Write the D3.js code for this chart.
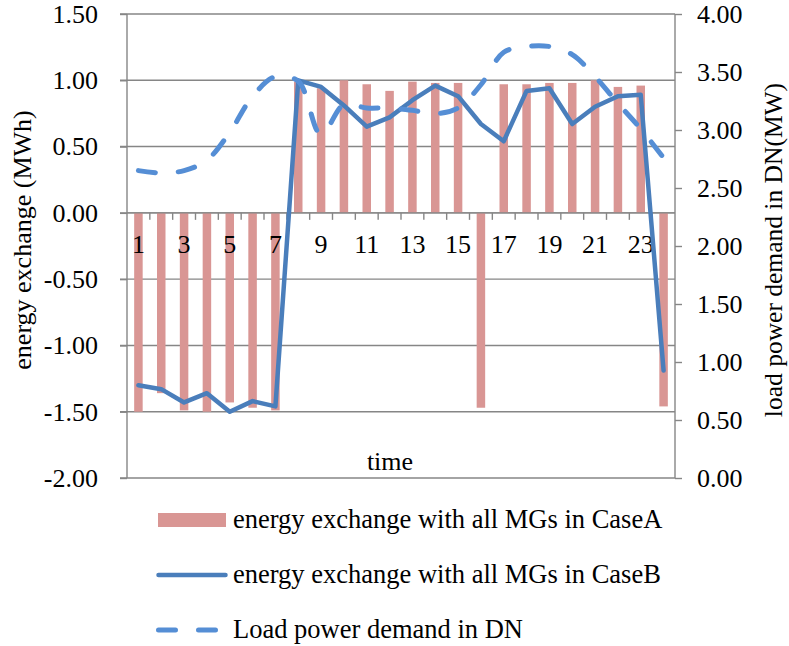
<!DOCTYPE html>
<html>
<head>
<meta charset="utf-8">
<script src="https://cdn.jsdelivr.net/npm/d3@7"></script>
<style>
  body { margin: 0; background: #fff; }
  svg text { font-family: "Liberation Serif", "Times New Roman", "DejaVu Serif", serif; fill: #000; }
</style>
</head>
<body>
<div id="canvas"></div>
<script>
/*
 * Data
 *
 */
const hours = [1, 2, 3, 4, 5, 6, 7, 8, 9, 10, 11, 12, 13, 14, 15, 16, 17, 18, 19, 20, 21, 22, 23, 24];
const caseA = [-1.50, -1.36, -1.49, -1.50, -1.43, -1.47, -1.49, 0.99, 0.94, 1.00, 0.97, 0.92,
  0.99, 0.98, 0.98, -1.47, 0.97, 0.97, 0.98, 0.98, 1.00, 0.95, 0.96, -1.46];
const caseB = [-1.30, -1.33, -1.43, -1.36, -1.50, -1.42, -1.46, 1.00, 0.95, 0.81, 0.65, 0.72,
  0.85, 0.96, 0.88, 0.67, 0.54, 0.92, 0.94, 0.67, 0.80, 0.88, 0.89, -1.19];
const loadDemand = [2.65, 2.63, 2.65, 2.74, 2.98, 3.29, 3.46, 3.42, 2.96, 3.22, 3.19, 3.19,
  3.17, 3.14, 3.19, 3.39, 3.67, 3.72, 3.72, 3.65, 3.46, 3.23, 3.01, 2.76];
const leftTicks = [-2.0, -1.5, -1.0, -0.5, 0.0, 0.5, 1.0, 1.5];
const rightTicks = [0, 0.5, 1.0, 1.5, 2.0, 2.5, 3.0, 3.5, 4.0];
const xLabels = [1, 3, 5, 7, 9, 11, 13, 15, 17, 19, 21, 23];
const legendNames = [
  'energy exchange with all MGs in CaseA',
  'energy exchange with all MGs in CaseB',
  'Load power demand in DN'
];

const color = {
  bar: '#d99694',
  caseB: '#4a7ebb',
  load: '#558ed5',
  grid: '#868686'
};

const svgWidth = 789,
  svgHeight = 646;
const plot = { left: 127, right: 675, top: 14, bottom: 478 };
const fontSize = 26;
const serif = '"Liberation Serif", "Times New Roman", "DejaVu Serif", serif';

const svg = d3.select('#canvas').append('svg')
  .attr('width', svgWidth)
  .attr('height', svgHeight)
  .style('font-family', serif);

/*
 * Scales
 *
 */
const xScale = d3.scaleBand()
  .domain(hours)
  .range([plot.left, plot.right])
  .padding(0);

const yLeft = d3.scaleLinear()
  .domain([-2, 1.5])
  .range([plot.bottom, plot.top]);

const yRight = d3.scaleLinear()
  .domain([0, 4])
  .range([plot.bottom, plot.top]);

const cx = (h) => xScale(h) + xScale.bandwidth() / 2;
// plain hyphen for negatives, like the original
const fmt = (d) => d3.format('.2f')(d).replace('\u2212', '-');

function styleAxis(ax) {
  ax.attr('font-family', null).attr('font-size', null);
  ax.select('.domain').attr('stroke', color.grid).attr('stroke-width', 1.4);
  ax.selectAll('.tick line').attr('stroke', color.grid).attr('stroke-width', 1.4);
  ax.selectAll('text')
    .style('font-size', `${fontSize}px`)
    .style('font-family', serif)
    .attr('fill', '#000');
}

/*
 * Gridlines + axes
 *
 */
svg.append('g')
  .attr('class', 'grid')
  .selectAll('line')
  .data(leftTicks)
  .enter()
  .append('line')
  .attr('x1', plot.left - 7)
  .attr('x2', plot.right)
  .attr('y1', (d) => yLeft(d))
  .attr('y2', (d) => yLeft(d))
  .attr('stroke', color.grid)
  .attr('stroke-width', 1.4);

const leftAxis = svg.append('g')
  .attr('transform', `translate(${plot.left},0)`)
  .call(d3.axisLeft(yLeft).tickValues(leftTicks).tickFormat(fmt).tickSize(7).tickPadding(22));
styleAxis(leftAxis);
leftAxis.select('.domain').attr('d', `M0,${plot.top}V${plot.bottom}`);

const rightAxis = svg.append('g')
  .attr('transform', `translate(${plot.right},0)`)
  .call(d3.axisRight(yRight).tickValues(rightTicks).tickFormat(fmt).tickSize(7).tickPadding(15));
styleAxis(rightAxis);
rightAxis.select('.domain').attr('d', `M0,${plot.top}V${plot.bottom}`);

// category boundary tick marks below the zero line
svg.append('g')
  .selectAll('line')
  .data(hours.slice(1))
  .enter()
  .append('line')
  .attr('x1', (d) => xScale(d))
  .attr('x2', (d) => xScale(d))
  .attr('y1', yLeft(0))
  .attr('y2', yLeft(0) + 7)
  .attr('stroke', color.grid)
  .attr('stroke-width', 1.4);

/*
 * Bars (Case A)
 *
 */
const barWidth = 8.5;
svg.append('g')
  .attr('class', 'bars')
  .selectAll('rect')
  .data(caseA)
  .enter()
  .append('rect')
  .attr('x', (d, i) => cx(hours[i]) - barWidth / 2)
  .attr('y', (d) => yLeft(Math.max(0, d)))
  .attr('width', barWidth)
  .attr('height', (d) => Math.abs(yLeft(d) - yLeft(0)))
  .attr('fill', color.bar);

// zero line above bars
svg.append('line')
  .attr('x1', plot.left)
  .attr('x2', plot.right)
  .attr('y1', yLeft(0))
  .attr('y2', yLeft(0))
  .attr('stroke', color.grid)
  .attr('stroke-width', 1.4);

// category labels sit on top of the bars
const bottomAxis = svg.append('g')
  .attr('transform', `translate(0,${yLeft(0)})`)
  .call(d3.axisBottom(xScale).tickValues(xLabels).tickSize(0).tickPadding(22));
styleAxis(bottomAxis);
bottomAxis.select('.domain').remove();

/*
 * Lines
 *
 */
const lineB = d3.line()
  .x((d, i) => cx(hours[i]))
  .y((d) => yLeft(d));

svg.append('path')
  .datum(caseB)
  .attr('d', lineB)
  .attr('fill', 'none')
  .attr('stroke', color.caseB)
  .attr('stroke-width', 4.5)
  .attr('stroke-linejoin', 'round')
  .attr('stroke-linecap', 'round');

const lineLoad = d3.line()
  .x((d, i) => cx(hours[i]))
  .y((d) => yRight(d))
  .curve(d3.curveCatmullRom.alpha(0.5));

svg.append('path')
  .datum(loadDemand)
  .attr('d', lineLoad)
  .attr('fill', 'none')
  .attr('stroke', color.load)
  .attr('stroke-width', 5)
  .attr('stroke-dasharray', '17,23')
  .attr('stroke-linecap', 'round');

/*
 * Axis titles
 *
 */
svg.append('text')
  .attr('transform', `translate(31,240) rotate(-90)`)
  .attr('text-anchor', 'middle')
  .style('font-size', `${fontSize}px`)
  .text('energy exchange (MWh)');

svg.append('text')
  .attr('transform', `translate(782,250) rotate(-90)`)
  .attr('text-anchor', 'middle')
  .style('font-size', `${fontSize - 0.5}px`)
  .text('load power demand in DN(MW)');

svg.append('text')
  .attr('x', 390)
  .attr('y', 470)
  .attr('text-anchor', 'middle')
  .style('font-size', `${fontSize}px`)
  .text('time');

/*
 * Legend
 *
 */
const legend = svg.append('g').attr('class', 'legend');
const rowY = [520, 575, 630];

legend.append('rect')
  .attr('x', 158)
  .attr('y', rowY[0] - 7)
  .attr('width', 68)
  .attr('height', 14)
  .attr('fill', color.bar);

legend.append('line')
  .attr('x1', 158.5).attr('x2', 225.5)
  .attr('y1', rowY[1]).attr('y2', rowY[1])
  .attr('stroke', color.caseB)
  .attr('stroke-width', 4.5)
  .attr('stroke-linecap', 'round');

legend.append('line')
  .attr('x1', 158.5).attr('x2', 225.5)
  .attr('y1', rowY[2]).attr('y2', rowY[2])
  .attr('stroke', color.load)
  .attr('stroke-width', 5)
  .attr('stroke-dasharray', '17,23')
  .attr('stroke-linecap', 'round');

legend.selectAll('text')
  .data(legendNames)
  .enter()
  .append('text')
  .attr('x', 233)
  .attr('y', (d, i) => rowY[i] + 8)
  .style('font-size', `${fontSize + 0.5}px`)
  .text((d) => d);
</script>
</body>
</html>
